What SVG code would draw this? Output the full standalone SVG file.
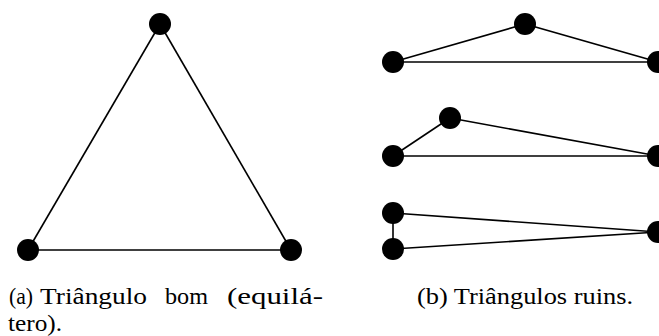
<svg xmlns="http://www.w3.org/2000/svg" width="659" height="336" viewBox="0 0 659 336">
<style>
.e{stroke:#000;stroke-width:1.6;fill:none}
.n{fill:#000}
.t{font-size:24px;fill:#000}
</style>
<rect width="659" height="336" fill="#fff"/>
<g id="connectors">
<line class="e" x1="160" y1="24" x2="28" y2="250"/>
<line class="e" x1="160" y1="24" x2="291" y2="250"/>
<line class="e" x1="28" y1="250" x2="291" y2="250"/>
<line class="e" x1="393" y1="62" x2="525" y2="24"/>
<line class="e" x1="525" y1="24" x2="658" y2="62"/>
<line class="e" x1="393" y1="62" x2="658" y2="62"/>
<line class="e" x1="393" y1="156" x2="450" y2="118"/>
<line class="e" x1="450" y1="118" x2="658" y2="156"/>
<line class="e" x1="393" y1="156" x2="658" y2="156"/>
<line class="e" x1="393" y1="213" x2="393" y2="249"/>
<line class="e" x1="393" y1="213" x2="658" y2="232"/>
<line class="e" x1="393" y1="249" x2="658" y2="232"/>
</g>
<g id="a-top"><circle class="n" cx="160" cy="24" r="11"/></g>
<g id="a-left"><circle class="n" cx="28" cy="250" r="11"/></g>
<g id="a-right"><circle class="n" cx="291" cy="250" r="11"/></g>
<g id="b1-left"><circle class="n" cx="393" cy="62" r="11"/></g>
<g id="b1-top"><circle class="n" cx="525" cy="24" r="11"/></g>
<g id="b1-right"><circle class="n" cx="658" cy="62" r="11"/></g>
<g id="b2-left"><circle class="n" cx="393" cy="156" r="11"/></g>
<g id="b2-top"><circle class="n" cx="450" cy="118" r="11"/></g>
<g id="b2-right"><circle class="n" cx="658" cy="156" r="11"/></g>
<g id="b3-top"><circle class="n" cx="393" cy="213" r="11"/></g>
<g id="b3-bottom"><circle class="n" cx="393" cy="249" r="11"/></g>
<g id="b3-right"><circle class="n" cx="658" cy="232" r="11"/></g>
<g id="captions" font-family="'Liberation Serif', 'Times New Roman', 'DejaVu Serif', serif">
<text class="t" y="304"><tspan x="9" textLength="24" lengthAdjust="spacingAndGlyphs">(a)</tspan><tspan x="40" textLength="107" lengthAdjust="spacingAndGlyphs">Triângulo</tspan><tspan x="165" textLength="43" lengthAdjust="spacingAndGlyphs">bom</tspan><tspan x="227" textLength="96" lengthAdjust="spacingAndGlyphs">(equilá-</tspan></text>
<text class="t" x="8" y="331" textLength="54" lengthAdjust="spacingAndGlyphs">tero).</text>
<text class="t" x="417" y="304" textLength="216" lengthAdjust="spacingAndGlyphs">(b) Triângulos ruins.</text>
</g>
</svg>
